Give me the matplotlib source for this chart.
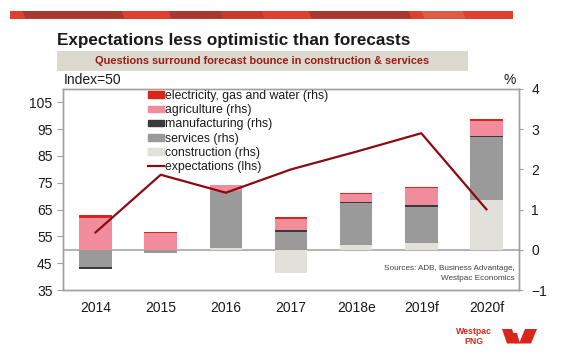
import numpy as np
import matplotlib
matplotlib.use("Agg")
import matplotlib.pyplot as plt
from matplotlib.patches import Polygon, Rectangle, Patch
from matplotlib.lines import Line2D

plt.rcParams['font.family'] = ['Liberation Sans', 'DejaVu Sans']

categories = ["2014", "2015", "2016", "2017", "2018e", "2019f", "2020f"]
construction = [0.0, 0.0, 0.05, -0.58, 0.12, 0.16, 1.24]
services = [-0.42, -0.09, 1.41, 0.45, 1.04, 0.91, 1.56]
manufacturing = [-0.05, 0.0, 0.0, 0.04, 0.03, 0.05, 0.04]
agriculture = [0.78, 0.41, 0.15, 0.27, 0.20, 0.41, 0.37]
electricity = [0.08, 0.04, 0.0, 0.06, 0.03, 0.04, 0.05]
expectations = [56.5, 78.0, 71.3, 80.0, 86.6, 93.5, 65.1]

left_ticks = [35, 45, 55, 65, 75, 85, 95, 105]
right_ticks = [-1, 0, 1, 2, 3, 4]

W, H = 580, 358
fig = plt.figure(figsize=(W / 100, H / 100), dpi=100)

def fx(x):
    return x / W

def fy(y):
    return 1 - y / H

# top banner stripe
fig.patches.append(Rectangle((fx(10), fy(18.5)), fx(513) - fx(10), fy(11) - fy(18.5),
                             transform=fig.transFigure, color='#e0402f', lw=0))
segs = [(24, 123, '#a63a30'), (170, 222, '#a63a30'), (222, 263, '#c8392c'),
        (310, 410, '#a63a30'), (423, 464, '#e05c47')]
for x0, x1, c in segs:
    poly = Polygon([(fx(x0 - 1.5), fy(11)), (fx(x1 - 1.5), fy(11)),
                    (fx(x1 + 1.5), fy(18.5)), (fx(x0 + 1.5), fy(18.5))],
                   closed=True, transform=fig.transFigure, color=c, lw=0)
    fig.patches.append(poly)

fig.text(fx(57), fy(40), "Expectations less optimistic than forecasts",
         fontsize=12.3, fontweight='bold', color='#1a1a1a', va='center', ha='left')
fig.patches.append(Rectangle((fx(57), fy(71)), fx(468) - fx(57), fy(51) - fy(71),
                             transform=fig.transFigure, color='#dcd9cf', lw=0))
fig.text(fx(262), fy(61.5), "Questions surround forecast bounce in construction & services",
         fontsize=7.9, fontweight='bold', color='#9b1c14', va='center', ha='center')

ax = fig.add_axes([fx(63), fy(290), fx(519) - fx(63), fy(89) - fy(290)])
ax2 = ax.twinx()

x = np.arange(len(categories))
series = [
    (construction, '#e1e0da', 'construction (rhs)'),
    (services, '#9a9a9a', 'services (rhs)'),
    (manufacturing, '#3a3a3a', 'manufacturing (rhs)'),
    (agriculture, '#f08c9b', 'agriculture (rhs)'),
    (electricity, '#d8261c', 'electricity, gas and water (rhs)'),
]
pos_b = np.zeros(len(x))
neg_b = np.zeros(len(x))
for vals, col, lab in series:
    v = np.array(vals, dtype=float)
    b = np.where(v >= 0, pos_b, neg_b)
    ax2.bar(x, v, bottom=b, width=0.5, color=col, lw=0, zorder=2)
    pos_b = pos_b + np.where(v > 0, v, 0)
    neg_b = neg_b + np.where(v < 0, v, 0)

ax2.axhline(0, color='#b5b5b5', lw=1.5, zorder=1)
ax2.set_ylim(-1, 4)
ax2.set_yticks(right_ticks)
ax.set_ylim(35, 110)
ax.set_yticks(left_ticks)
ax.set_xlim(-0.5, len(categories) - 0.5)
ax.set_xticks(x)
ax.set_xticklabels(categories)

ax.plot(x, expectations, color='#8b0a10', lw=1.6, zorder=5)
ax.set_zorder(ax2.get_zorder() + 1)
ax.patch.set_visible(False)

for a in (ax, ax2):
    for s in a.spines.values():
        s.set_color('#a0a0a0')
        s.set_linewidth(1.0)
ax.tick_params(axis='y', colors='#a0a0a0', labelcolor='#1a1a1a', labelsize=10, length=4, pad=3.5)
ax2.tick_params(axis='y', colors='#a0a0a0', labelcolor='#1a1a1a', labelsize=10, length=3, pad=6)
ax.tick_params(axis='x', length=0, labelsize=10, labelcolor='#1a1a1a', pad=8)

handles = [Patch(color=series[4][1], label=series[4][2]),
           Patch(color=series[3][1], label=series[3][2]),
           Patch(color=series[2][1], label=series[2][2]),
           Patch(color=series[1][1], label=series[1][2]),
           Patch(color=series[0][1], label=series[0][2]),
           Line2D([], [], color='#8b0a10', lw=1.6, label='expectations (lhs)')]
leg = ax.legend(handles=handles, loc='upper left', bbox_to_anchor=((148 - 63) / 456, 0.995),
                frameon=False, fontsize=8.8, handlelength=1.3, handleheight=0.45,
                handletextpad=0.1, labelspacing=0.18, borderpad=0, borderaxespad=0)
for t in leg.get_texts():
    t.set_color('#1a1a1a')

fig.text(fx(64), fy(80), "Index=50", fontsize=10, color='#1a1a1a', va='center', ha='left')
fig.text(fx(516), fy(80), "%", fontsize=10, color='#1a1a1a', va='center', ha='right')

fig.text(fx(515), fy(268), "Sources: ADB, Business Advantage,", fontsize=5.9,
         color='#404040', va='center', ha='right')
fig.text(fx(515), fy(278), "Westpac Economics", fontsize=5.9,
         color='#404040', va='center', ha='right')

# logo
fig.text(fx(474), fy(331), "Westpac", fontsize=6.3, fontweight='bold', color='#d8261c',
         va='center', ha='center')
fig.text(fx(474), fy(341.5), "PNG", fontsize=6.3, fontweight='bold', color='#d8261c',
         va='center', ha='center')
logo = [
    [(502, 329), (512, 329), (517, 343.5), (507, 343.5)],
    [(512, 333), (517, 333), (520, 343.5), (515.5, 343.5)],
    [(525, 329), (537, 329), (531, 343.5), (519, 343.5)],
]
for p in logo:
    fig.patches.append(Polygon([(fx(a), fy(b)) for a, b in p], closed=True,
                               transform=fig.transFigure, color='#d8261c', lw=0))

fig.savefig("out.png", dpi=100)
